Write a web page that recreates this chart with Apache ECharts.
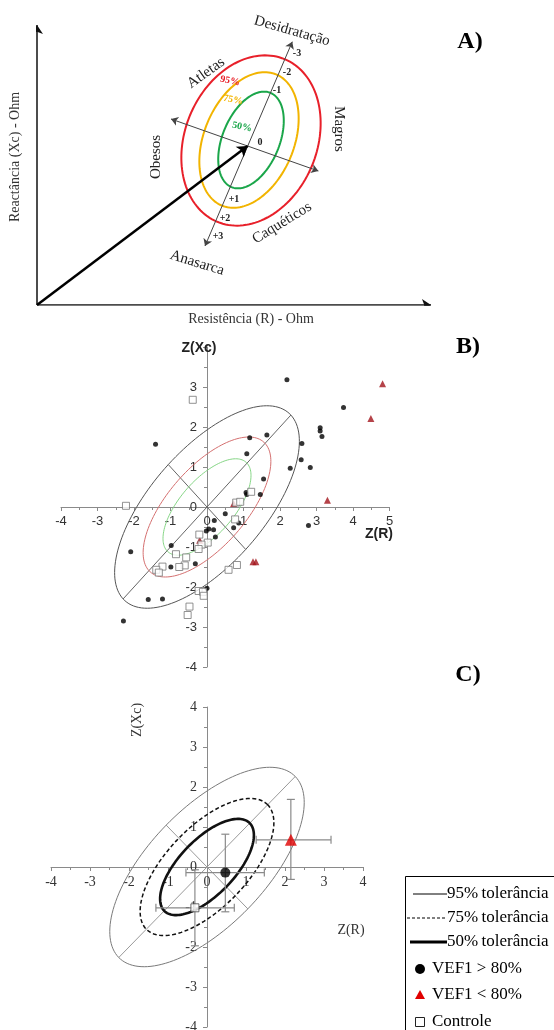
<!DOCTYPE html>
<html>
<head>
<meta charset="utf-8">
<script src="https://cdn.jsdelivr.net/npm/echarts@6/dist/echarts.min.js"></script>
<style>
  html, body { margin: 0; padding: 0; background: #fff; }
  #chart { width: 554px; height: 1030px; }
</style>
</head>
<body>
<div id="chart"></div>
<script>
// ---------- Painel A (esquema, 1 unidade = 1 px a partir da origem dos eixos) ----------
const aFaixaR = [0, 394];
const aFaixaXc = [0, 280];
// elipses: [centroR, centroXc, semiEixoMaior, semiEixoMenor, angulo]
const aElipse95 = [214, 164.5, 88, 66, 67.5];
const aElipse75 = [212, 165, 71, 45, 67.5];
const aElipse50 = [214, 165, 51, 28.5, 67.5];
const aVetor = [[0, 0], [210.6, 158.9]];
const aEixoLongo = [[168, 59], [255.3, 263.3]];
const aEixoTransversal = [[134, 186], [281.4, 134]];
const aEixoR = [[0, 0], [394, 0]];
const aEixoXc = [[0, 0], [0, 280]];

// ---------- Painel B: Z(R), Z(Xc) individuais ----------
const bFaixaX = [-4, 5];
const bFaixaY = [-4, 4];
const bVef1Acima = [
  [2.19, 3.18], [3.74, 2.49], [3.10, 1.98], [3.10, 1.90], [3.15, 1.76], [2.60, 1.59],
  [2.58, 1.18], [2.28, 0.97], [2.83, 0.99], [2.78, -0.46], [1.64, 1.80], [1.17, 1.73],
  [1.09, 1.33], [1.55, 0.70], [1.07, 0.36], [1.09, 0.31], [1.46, 0.31], [-1.41, 1.57],
  [0.50, -0.17], [0.87, -0.40], [0.73, -0.52], [0.20, -0.34], [0.05, -0.55], [-0.02, -0.60],
  [0.18, -0.57], [0.23, -0.75], [-0.98, -0.96], [-0.32, -1.42], [-0.99, -1.50], [0.00, -2.03],
  [-1.61, -2.31], [-1.22, -2.30], [-2.09, -1.12], [-2.29, -2.85]
];
const bVef1Abaixo = [
  [4.81, 3.08], [4.49, 2.21], [3.30, 0.17], [0.73, 0.09], [-0.20, -0.83], [1.26, -1.37], [1.34, -1.37]
];
const bControle = [
  [-0.39, 2.68], [1.21, 0.38], [0.80, 0.11], [0.91, 0.13], [0.77, -0.31], [-0.21, -0.69],
  [0.02, -0.89], [-0.15, -0.94], [-0.23, -1.05], [-0.85, -1.18], [-0.57, -1.26], [-0.61, -1.46],
  [-0.76, -1.50], [-1.22, -1.49], [-1.39, -1.57], [-1.32, -1.64], [0.82, -1.45], [0.59, -1.57],
  [-0.23, -2.10], [-0.11, -2.12], [-0.09, -2.22], [-0.48, -2.49], [-0.53, -2.70], [-2.22, 0.03]
];
const bElipse95 = [0, 0, 3.25, 1.5, 45];
const bElipse75 = [0, 0, 2.25, 1.03, 45];
const bElipse50 = [0, 0, 1.55, 0.71, 45];

// ---------- Painel C: médias e desvios ----------
const cFaixaX = [-4, 4];
const cFaixaY = [-4, 4];
const cGrupos = ['VEF1 > 80%', 'VEF1 < 80%', 'Controle'];
const cMedias = [[0.47, -0.14], [2.15, 0.68], [-0.31, -1.02]];
const cErroX = [[-0.54, 1.47], [1.26, 3.18], [-1.31, 0.70]];
const cErroY = [[-1.12, 0.82], [-0.31, 1.69], [-1.97, -0.07]];
const cElipse95 = [0, 0, 3.2, 1.48, 45];
const cElipse75 = [0, 0, 2.2, 1.02, 45];
const cElipse50 = [0, 0, 1.55, 0.7, 45];

const serif = '"Liberation Serif", "Times New Roman", serif';
const sans = '"Liberation Sans", Arial, sans-serif';

const gridA = { left: 37, top: 25, width: 394, height: 280 };
const gridB = { left: 61, top: 347, width: 328.5, height: 320 };
const gridC = { left: 51, top: 707, width: 312, height: 320 };

// ponto da elipse rotacionada
function pontoElipse(e, u, v) {
  const ang = e[4] * Math.PI / 180;
  return [e[0] + u * Math.cos(ang) - v * Math.sin(ang), e[1] + u * Math.sin(ang) + v * Math.cos(ang)];
}

// série custom que desenha uma elipse pelas escalas do grid
function serieElipse(gi, e, estilo) {
  return {
    type: 'custom', coordinateSystem: 'cartesian2d', xAxisIndex: gi, yAxisIndex: gi,
    silent: true, clip: false, z: 3,
    data: [e],
    renderItem: function (params, api) {
      const el = [api.value(0), api.value(1), api.value(2), api.value(3), api.value(4)];
      const pts = [];
      for (let i = 0; i <= 144; i++) {
        const t = i / 144 * Math.PI * 2;
        pts.push(api.coord(pontoElipse(el, el[2] * Math.cos(t), el[3] * Math.sin(t))));
      }
      return { type: 'polyline', shape: { points: pts }, style: Object.assign({ fill: null }, estilo) };
    }
  };
}

// eixos maior e menor da elipse
function serieEixosElipse(gi, e, cor) {
  return {
    type: 'custom', coordinateSystem: 'cartesian2d', xAxisIndex: gi, yAxisIndex: gi,
    silent: true, clip: false, z: 2,
    data: [e],
    renderItem: function (params, api) {
      const el = [api.value(0), api.value(1), api.value(2), api.value(3), api.value(4)];
      const m1 = api.coord(pontoElipse(el, -el[2], 0)), m2 = api.coord(pontoElipse(el, el[2], 0));
      const n1 = api.coord(pontoElipse(el, 0, -el[3])), n2 = api.coord(pontoElipse(el, 0, el[3]));
      const st = { stroke: cor, lineWidth: 1 };
      return {
        type: 'group', children: [
          { type: 'line', shape: { x1: m1[0], y1: m1[1], x2: m2[0], y2: m2[1] }, style: st },
          { type: 'line', shape: { x1: n1[0], y1: n1[1], x2: n2[0], y2: n2[1] }, style: st }
        ]
      };
    }
  };
}

function serieSeta(gi, segs, cor, largura, simbolo, tam) {
  return {
    type: 'lines', coordinateSystem: 'cartesian2d', xAxisIndex: gi, yAxisIndex: gi,
    silent: true, z: 4,
    symbol: simbolo, symbolSize: tam,
    lineStyle: { color: cor, width: largura, opacity: 1 },
    data: segs.map(s => ({ coords: s }))
  };
}

// eixo de valores que cruza o zero (deslocado a partir da borda do grid)
function eixoValor(gi, faixa, outra, tamGrid, fonte, tamFonte, margem, ocultar) {
  const desloc = -tamGrid * (0 - outra[0]) / (outra[1] - outra[0]);
  return {
    type: 'value', gridIndex: gi, min: faixa[0], max: faixa[1], interval: 1,
    offset: desloc,
    axisLine: { onZero: false, lineStyle: { color: '#8a8a8a', width: 1 } },
    axisTick: { show: true, length: 4, lineStyle: { color: '#8a8a8a' } },
    minorTick: { show: true, splitNumber: 2, length: 3, lineStyle: { color: '#8a8a8a' } },
    splitLine: { show: false },
    axisLabel: {
      fontFamily: fonte, fontSize: tamFonte, color: '#333', margin: margem,
      showMinLabel: true, showMaxLabel: true, hideOverlap: false,
      formatter: v => (ocultar && ocultar.indexOf(v) >= 0) ? '' : String(v)
    }
  };
}

function txt(x, y, s, opts) {
  opts = opts || {};
  return {
    type: 'text', x: x, y: y, rotation: opts.rot || 0, silent: true, z: 10,
    style: {
      text: s, fill: opts.cor || '#222',
      font: (opts.peso || 'normal') + ' ' + (opts.tam || 15) + 'px ' + (opts.fonte || serif),
      align: opts.align || 'center', verticalAlign: 'middle'
    }
  };
}

const chart = echarts.init(document.getElementById('chart'));

const errData = cMedias.map((m, i) => [m[0], m[1], cErroX[i][0], cErroX[i][1], cErroY[i][0], cErroY[i][1]]);

const graficos = [
  // painel A
  txt(470, 42, 'A)', { tam: 24, peso: 'bold', cor: '#000' }),
  txt(15, 157, 'Reactância (Xc) - Ohm', { tam: 14, rot: Math.PI / 2, cor: '#333' }),
  txt(251, 319, 'Resistência (R) - Ohm', { tam: 14, cor: '#333' }),
  txt(292, 31, 'Desidratação', { rot: -0.28 }),
  txt(206, 73, 'Atletas', { rot: 0.62 }),
  txt(339, 129, 'Magros', { rot: -Math.PI / 2 }),
  txt(156, 157, 'Obesos', { rot: Math.PI / 2 }),
  txt(282, 223, 'Caquéticos', { rot: 0.55 }),
  txt(197, 263, 'Anasarca', { rot: -0.3 }),
  txt(230, 81, '95%', { tam: 10, peso: 'bold', cor: '#e8202a', rot: -0.2 }),
  txt(233, 100, '75%', { tam: 10, peso: 'bold', cor: '#f2b400', rot: -0.2 }),
  txt(242, 127, '50%', { tam: 10, peso: 'bold', cor: '#1aa64a', rot: -0.2 }),
  txt(260, 142, '0', { tam: 10, peso: 'bold' }),
  txt(297, 53, '-3', { tam: 10, peso: 'bold' }),
  txt(287, 72, '-2', { tam: 10, peso: 'bold' }),
  txt(277, 90, '-1', { tam: 10, peso: 'bold' }),
  txt(234, 199, '+1', { tam: 10, peso: 'bold' }),
  txt(225, 218, '+2', { tam: 10, peso: 'bold' }),
  txt(218, 236, '+3', { tam: 10, peso: 'bold' }),
  // painel B
  txt(468, 347, 'B)', { tam: 24, peso: 'bold', cor: '#000' }),
  txt(199, 348, 'Z(Xc)', { tam: 14, peso: 'bold', fonte: sans, cor: '#222' }),
  txt(379, 534, 'Z(R)', { tam: 14, peso: 'bold', fonte: sans, cor: '#222' }),
  // painel C
  txt(468, 675, 'C)', { tam: 24, peso: 'bold', cor: '#000' }),
  txt(137, 720, 'Z(Xc)', { tam: 14, rot: Math.PI / 2, cor: '#333' }),
  txt(351, 930, 'Z(R)', { tam: 14, cor: '#333' }),
  // legenda
  { type: 'rect', z: 9, silent: true, shape: { x: 405.5, y: 876.5, width: 160, height: 170 }, style: { fill: '#fff', stroke: '#000', lineWidth: 1 } },
  { type: 'line', z: 10, silent: true, shape: { x1: 413, y1: 894, x2: 447, y2: 894 }, style: { stroke: '#000', lineWidth: 1 } },
  { type: 'line', z: 10, silent: true, shape: { x1: 407, y1: 918, x2: 447, y2: 918 }, style: { stroke: '#000', lineWidth: 1.2, lineDash: [3, 2] } },
  { type: 'line', z: 10, silent: true, shape: { x1: 410, y1: 942, x2: 447, y2: 942 }, style: { stroke: '#000', lineWidth: 3 } },
  { type: 'circle', z: 10, silent: true, shape: { cx: 420, cy: 969, r: 5 }, style: { fill: '#000' } },
  { type: 'polygon', z: 10, silent: true, shape: { points: [[420, 990], [425, 999], [415, 999]] }, style: { fill: '#e00000' } },
  { type: 'rect', z: 10, silent: true, shape: { x: 415.5, y: 1017.5, width: 9, height: 9 }, style: { fill: '#fff', stroke: '#222', lineWidth: 1 } },
  txt(447, 894, '95%\u2009tolerância', { align: 'left', cor: '#000', tam: 17 }),
  txt(447, 918, '75%\u2009tolerância', { align: 'left', cor: '#000', tam: 17 }),
  txt(447, 942, '50%\u2009tolerância', { align: 'left', cor: '#000', tam: 17 }),
  txt(432, 969, cGrupos[0], { align: 'left', cor: '#000', tam: 17 }),
  txt(432, 995, cGrupos[1], { align: 'left', cor: '#000', tam: 17 }),
  txt(432, 1022, cGrupos[2], { align: 'left', cor: '#000', tam: 17 })
];

const option = {
  backgroundColor: '#fff',
  animation: false,
  grid: [
    Object.assign({ outerBoundsMode: 'none' }, gridA),
    Object.assign({ outerBoundsMode: 'none' }, gridB),
    Object.assign({ outerBoundsMode: 'none' }, gridC)
  ],
  xAxis: [
    { type: 'value', gridIndex: 0, min: aFaixaR[0], max: aFaixaR[1], show: false },
    eixoValor(1, bFaixaX, bFaixaY, gridB.height, sans, 13, 8, null),
    eixoValor(2, cFaixaX, cFaixaY, gridC.height, serif, 14, 8, null)
  ],
  yAxis: [
    { type: 'value', gridIndex: 0, min: aFaixaXc[0], max: aFaixaXc[1], show: false },
    eixoValor(1, bFaixaY, bFaixaX, gridB.width, sans, 13, 10, [4]),
    eixoValor(2, cFaixaY, cFaixaX, gridC.width, serif, 14, 10, null)
  ],
  graphic: graficos,
  series: [
    // A
    serieSeta(0, [aEixoR, aEixoXc], '#111', 1.5, ['none', 'arrow'], 9),
    serieElipse(0, aElipse95, { stroke: '#e8202a', lineWidth: 2 }),
    serieElipse(0, aElipse75, { stroke: '#f2b400', lineWidth: 2 }),
    serieElipse(0, aElipse50, { stroke: '#1aa64a', lineWidth: 2 }),
    serieSeta(0, [aEixoLongo, aEixoTransversal], '#444', 1, ['arrow', 'arrow'], 7),
    serieSeta(0, [aVetor], '#000', 2.5, ['none', 'arrow'], 10),
    // B
    serieEixosElipse(1, bElipse95, '#666'),
    serieElipse(1, bElipse95, { stroke: '#555', lineWidth: 1 }),
    serieElipse(1, bElipse75, { stroke: '#d57070', lineWidth: 1 }),
    serieElipse(1, bElipse50, { stroke: '#86d686', lineWidth: 1 }),
    {
      name: 'VEF1 > 80%', type: 'scatter', xAxisIndex: 1, yAxisIndex: 1, z: 5,
      symbol: 'circle', symbolSize: 5, itemStyle: { color: '#000' }, data: bVef1Acima
    },
    {
      name: 'VEF1 < 80%', type: 'scatter', xAxisIndex: 1, yAxisIndex: 1, z: 5,
      symbol: 'triangle', symbolSize: 7, itemStyle: { color: '#a3141c' }, data: bVef1Abaixo
    },
    {
      name: 'Controle', type: 'scatter', xAxisIndex: 1, yAxisIndex: 1, z: 5,
      symbol: 'rect', symbolSize: 7, itemStyle: { color: '#fff', borderColor: '#777', borderWidth: 1 }, data: bControle
    },
    // C
    serieEixosElipse(2, cElipse95, '#9a9a9a'),
    serieElipse(2, cElipse95, { stroke: '#7a7a7a', lineWidth: 1 }),
    serieElipse(2, cElipse75, { stroke: '#111', lineWidth: 1.5, lineDash: [4, 2.5] }),
    serieElipse(2, cElipse50, { stroke: '#111', lineWidth: 2.6 }),
    {
      type: 'custom', coordinateSystem: 'cartesian2d', xAxisIndex: 2, yAxisIndex: 2,
      silent: true, clip: false, z: 4, data: errData,
      renderItem: function (params, api) {
        const y = api.value(1), x = api.value(0);
        const h1 = api.coord([api.value(2), y]), h2 = api.coord([api.value(3), y]);
        const v1 = api.coord([x, api.value(4)]), v2 = api.coord([x, api.value(5)]);
        const st = { stroke: '#8a8a8a', lineWidth: 1.2 };
        const c = 4;
        return {
          type: 'group', children: [
            { type: 'line', shape: { x1: h1[0], y1: h1[1], x2: h2[0], y2: h2[1] }, style: st },
            { type: 'line', shape: { x1: h1[0], y1: h1[1] - c, x2: h1[0], y2: h1[1] + c }, style: st },
            { type: 'line', shape: { x1: h2[0], y1: h2[1] - c, x2: h2[0], y2: h2[1] + c }, style: st },
            { type: 'line', shape: { x1: v1[0], y1: v1[1], x2: v2[0], y2: v2[1] }, style: st },
            { type: 'line', shape: { x1: v1[0] - c, y1: v1[1], x2: v1[0] + c, y2: v1[1] }, style: st },
            { type: 'line', shape: { x1: v2[0] - c, y1: v2[1], x2: v2[0] + c, y2: v2[1] }, style: st }
          ]
        };
      }
    },
    {
      name: cGrupos[0], type: 'scatter', xAxisIndex: 2, yAxisIndex: 2, z: 6,
      symbol: 'circle', symbolSize: 10, itemStyle: { color: '#000' }, data: [cMedias[0]]
    },
    {
      name: cGrupos[1], type: 'scatter', xAxisIndex: 2, yAxisIndex: 2, z: 6,
      symbol: 'triangle', symbolSize: 12, itemStyle: { color: '#e00000' }, data: [cMedias[1]]
    },
    {
      name: cGrupos[2], type: 'scatter', xAxisIndex: 2, yAxisIndex: 2, z: 6,
      symbol: 'rect', symbolSize: 8, itemStyle: { color: '#fff', borderColor: '#444', borderWidth: 1 }, data: [cMedias[2]]
    }
  ]
};

chart.setOption(option);
</script>
</body>
</html>
